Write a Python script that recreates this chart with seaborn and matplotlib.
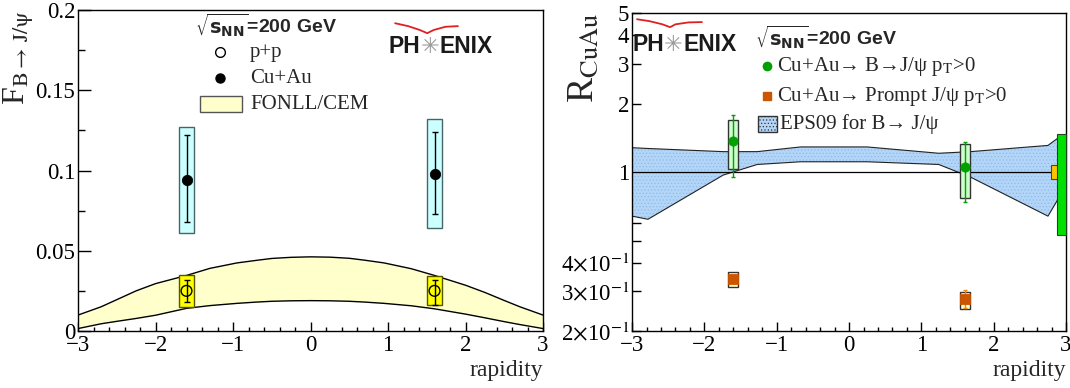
import matplotlib
matplotlib.use("Agg")
import matplotlib.pyplot as plt
import matplotlib.patches as mpatches
from matplotlib.ticker import MultipleLocator, FixedLocator, FixedFormatter, NullFormatter
import pandas as pd
import seaborn as sns

# ---- left panel: fraction of J/psi from B decays ----
rap_pts = [-1.6, 1.6]
pp_frac = [0.025, 0.025]
pp_stat_lo = [0.018, 0.016]
pp_stat_hi = [0.032, 0.032]
pp_sys_lo = [0.015, 0.016]
pp_sys_hi = [0.035, 0.034]
cuau_frac = [0.094, 0.098]
cuau_stat_lo = [0.068, 0.073]
cuau_stat_hi = [0.122, 0.124]
cuau_sys_lo = [0.061, 0.064]
cuau_sys_hi = [0.127, 0.132]

fonll_rap = [-3.0, -2.7, -2.5, -2.25, -2.0, -1.6, -1.3, -0.95, -0.7, -0.5, -0.25, 0.0,
             0.25, 0.5, 0.7, 0.95, 1.3, 1.6, 2.0, 2.25, 2.5, 2.7, 3.0]
fonll_hi = [0.0099, 0.0151, 0.0195, 0.0250, 0.0295, 0.0346, 0.0390, 0.0424, 0.0440, 0.0452,
            0.0459, 0.0462, 0.0460, 0.0453, 0.0441, 0.0424, 0.0388, 0.0346, 0.0285, 0.0240,
            0.0190, 0.0151, 0.0099]
fonll_lo = [0.0015, 0.0045, 0.0060, 0.0078, 0.0098, 0.0141, 0.0158, 0.0172, 0.0180, 0.0185,
            0.0188, 0.0189, 0.0188, 0.0185, 0.0180, 0.0172, 0.0157, 0.0138, 0.0105, 0.0082,
            0.0058, 0.0040, 0.0015]

# ---- right panel: nuclear modification factor ----
rb = [1.37, 1.05]
rb_stat_lo = [0.95, 0.74]
rb_stat_hi = [1.78, 1.35]
rb_sys_lo = [1.03, 0.77]
rb_sys_hi = [1.69, 1.33]
rp = [0.338, 0.276]
rp_stat_lo = [0.328, 0.252]
rp_stat_hi = [0.348, 0.303]
rp_sys_lo = [0.313, 0.250]
rp_sys_hi = [0.362, 0.297]
glob_b = [0.53, 1.47]
glob_prompt = [0.93, 1.07]

eps_rap = [-3.0, -2.78, -1.74, -1.27, -0.67, 0.25, 1.24, 1.68, 2.75, 2.9, 3.0]
eps_hi = [1.28, 1.27, 1.23, 1.23, 1.29, 1.29, 1.21, 1.23, 1.31, 1.42, 1.45]
eps_lo = [0.64, 0.62, 0.97, 1.08, 1.11, 1.11, 1.08, 0.95, 0.64, 0.77, 0.80]

sns.set_theme(style="ticks")
plt.rcParams['font.family'] = ['Liberation Serif', 'DejaVu Serif']
plt.rcParams['mathtext.fontset'] = 'stix'
plt.rcParams['hatch.linewidth'] = 0.5
plt.rcParams['axes.linewidth'] = 1.0

SANS = ['Liberation Sans', 'DejaVu Sans']
TXT = 15


def style_axes(ax):
    for s in ax.spines.values():
        s.set_visible(True)
        s.set_color('black')
    ax.tick_params(which='both', direction='in', top=False, right=False,
                   colors='black', labelsize=16.5, width=1)
    ax.tick_params(axis='x', which='major', length=6.5, pad=3)
    ax.tick_params(axis='x', which='minor', length=3.2)
    ax.set_xlim(-3, 3)
    ax.xaxis.set_major_locator(MultipleLocator(1))
    ax.xaxis.set_minor_locator(MultipleLocator(0.2))
    ax.set_xlabel('rapidity', loc='right', fontsize=17, labelpad=3)


def logo(ax, x_ph, x_star, x_enix, y, arc_x, arc_y):
    ax.text(x_ph, y, 'PH', transform=ax.transAxes, family=SANS, weight='bold',
            fontsize=16.5, color='#1a1a1a', va='center', ha='left')
    ax.text(x_star, y, '\u2733', transform=ax.transAxes, family=['DejaVu Sans'],
            fontsize=16, color='#9a9a9a', va='center', ha='center')
    ax.text(x_enix, y, 'ENIX', transform=ax.transAxes, family=SANS, weight='bold',
            fontsize=16.5, color='#1a1a1a', va='center', ha='left')
    ax.plot(arc_x, arc_y, transform=ax.transAxes, color='#e02020', lw=1.3,
            solid_capstyle='round')


fig = plt.figure(figsize=(10.7, 3.88), dpi=100)
ax1 = fig.add_axes([0.0729, 0.147, 0.4346, 0.827])
ax2 = fig.add_axes([0.5907, 0.147, 0.4056, 0.819])

# ================= left panel =================
fonll = pd.DataFrame({'y': fonll_rap, 'hi': fonll_hi, 'lo': fonll_lo})
ax1.fill_between(fonll['y'], fonll['lo'], fonll['hi'], color='#ffffcc', lw=0, zorder=1)
sns.lineplot(data=fonll, x='y', y='hi', ax=ax1, color='black', lw=1.0, zorder=2)
sns.lineplot(data=fonll, x='y', y='lo', ax=ax1, color='black', lw=1.0, zorder=2)

for x, lo, hi in zip(rap_pts, cuau_sys_lo, cuau_sys_hi):
    ax1.add_patch(mpatches.Rectangle((x - 0.1, lo), 0.2, hi - lo, facecolor='#ccffff',
                                     edgecolor='#446666', lw=1.0, zorder=3))
for x, lo, hi in zip(rap_pts, pp_sys_lo, pp_sys_hi):
    ax1.add_patch(mpatches.Rectangle((x - 0.1, lo), 0.2, hi - lo, facecolor='#ffff00',
                                     edgecolor='#555500', lw=1.0, zorder=3))

ax1.errorbar(rap_pts, cuau_frac,
             yerr=[[v - l for v, l in zip(cuau_frac, cuau_stat_lo)],
                   [h - v for v, h in zip(cuau_frac, cuau_stat_hi)]],
             fmt='none', ecolor='black', elinewidth=1.0, capsize=2, zorder=4)
ax1.errorbar(rap_pts, pp_frac,
             yerr=[[v - l for v, l in zip(pp_frac, pp_stat_lo)],
                   [h - v for v, h in zip(pp_frac, pp_stat_hi)]],
             fmt='none', ecolor='black', elinewidth=1.0, capsize=2, zorder=4)
sns.scatterplot(x=rap_pts, y=cuau_frac, ax=ax1, color='black', s=55,
                edgecolor='black', zorder=5)
sns.scatterplot(x=rap_pts, y=pp_frac, ax=ax1, facecolor='none', s=60,
                edgecolor='black', linewidth=1.0, zorder=5)

style_axes(ax1)
ax1.set_ylim(0, 0.2)
ax1.set_yticks([0, 0.05, 0.1, 0.15, 0.2])
ax1.set_yticklabels(['0', '0.05', '0.1', '0.15', '0.2'])
ax1.yaxis.set_minor_locator(MultipleLocator(0.025))
ax1.tick_params(axis='y', which='major', length=9.5, pad=2)
ax1.tick_params(axis='y', which='minor', length=5)
ax1.set_ylabel(r'F$_{\mathrm{B{\rightarrow}\,J/ψ}}$', loc='top', fontsize=23)
ax1.yaxis.set_label_coords(-0.09, 1.0)

ax1.text(0.252, 0.953, r'$\sqrt{\mathbf{s}_{\mathbf{NN}}}$=200 GeV', transform=ax1.transAxes,
         family=SANS, weight='bold', fontsize=14, math_fontfamily='dejavusans',
         va='center', ha='left')
ax1.plot([0.305], [0.869], 'o', mfc='white', mec='black', ms=7, transform=ax1.transAxes)
ax1.text(0.37, 0.869, 'p+p', transform=ax1.transAxes, fontsize=TXT, va='center')
ax1.plot([0.305], [0.788], 'o', mfc='black', mec='black', ms=6.5, transform=ax1.transAxes)
ax1.text(0.37, 0.788, 'Cu+Au', transform=ax1.transAxes, fontsize=TXT, va='center')
ax1.add_patch(mpatches.Rectangle((0.262, 0.682), 0.091, 0.05, transform=ax1.transAxes,
                                 facecolor='#ffffcc', edgecolor='#555555', lw=1.0))
ax1.text(0.37, 0.707, 'FONLL/CEM', transform=ax1.transAxes, fontsize=TXT, va='center')
logo(ax1, 0.667, 0.757, 0.778, 0.885,
     [0.682, 0.71, 0.735, 0.751, 0.765, 0.79, 0.817],
     [0.959, 0.950, 0.938, 0.928, 0.938, 0.948, 0.950])

# ================= right panel =================
ax2.set_yscale('log')
eps = pd.DataFrame({'y': eps_rap, 'hi': eps_hi, 'lo': eps_lo})
ax2.fill_between(eps['y'], eps['lo'], eps['hi'], facecolor='#b3d5f7', edgecolor='#8fbbe8',
                 hatch='.....', lw=0, zorder=1)
sns.lineplot(data=eps, x='y', y='hi', ax=ax2, color='#222222', lw=0.8, zorder=2)
sns.lineplot(data=eps, x='y', y='lo', ax=ax2, color='#222222', lw=0.8, zorder=2)
ax2.axhline(1.0, color='black', lw=0.9, zorder=2)

for x, lo, hi in zip(rap_pts, rb_sys_lo, rb_sys_hi):
    ax2.add_patch(mpatches.Rectangle((x - 0.07, lo), 0.14, hi - lo, facecolor='#ccffcc',
                                     edgecolor='#333333', lw=1.0, zorder=3))
for x, lo, hi in zip(rap_pts, rp_sys_lo, rp_sys_hi):
    ax2.add_patch(mpatches.Rectangle((x - 0.07, lo), 0.14, hi - lo, facecolor='#ffffcc',
                                     edgecolor='#333333', lw=1.0, zorder=3))
ax2.add_patch(mpatches.Rectangle((2.79, glob_prompt[0]), 0.1, glob_prompt[1] - glob_prompt[0],
                                 facecolor='#ffc400', edgecolor='#444444', lw=0.8, zorder=3))
ax2.add_patch(mpatches.Rectangle((2.88, glob_b[0]), 0.12, glob_b[1] - glob_b[0],
                                 facecolor='#00e000', edgecolor='#224422', lw=0.8, zorder=3,
                                 clip_on=False))

ax2.errorbar(rap_pts, rb,
             yerr=[[v - l for v, l in zip(rb, rb_stat_lo)],
                   [h - v for v, h in zip(rb, rb_stat_hi)]],
             fmt='none', ecolor='#00a000', elinewidth=1.0, capsize=1.5, zorder=4)
ax2.errorbar(rap_pts, rp,
             yerr=[[v - l for v, l in zip(rp, rp_stat_lo)],
                   [h - v for v, h in zip(rp, rp_stat_hi)]],
             fmt='none', ecolor='#ee8800', elinewidth=1.0, capsize=1.5, zorder=4)
sns.scatterplot(x=rap_pts, y=rb, ax=ax2, color='#00a000', s=45, edgecolor='#00a000', zorder=5)
sns.scatterplot(x=rap_pts, y=rp, ax=ax2, color='#cc5500', marker='s', s=55,
                edgecolor='#cc5500', zorder=5)

style_axes(ax2)
ax2.set_ylim(0.2, 5)
ax2.yaxis.set_major_locator(FixedLocator([0.2, 0.3, 0.4, 1, 2, 3, 4, 5]))
ax2.yaxis.set_major_formatter(FixedFormatter([r'2$\times$10$^{-1}$', r'3$\times$10$^{-1}$',
                                              r'4$\times$10$^{-1}$', '1', '2', '3', '4', '5']))
ax2.yaxis.set_minor_locator(FixedLocator([0.5, 0.6, 0.7, 0.8, 0.9]))
ax2.yaxis.set_minor_formatter(NullFormatter())
ax2.tick_params(axis='y', which='both', length=6.5, pad=2)
ax2.set_ylabel(r'R$_{\mathrm{CuAu}}$', loc='top', fontsize=27)
ax2.yaxis.set_label_coords(-0.072, 1.0)

ax2.text(0.283, 0.925, r'$\sqrt{\mathbf{s}_{\mathbf{NN}}}$=200 GeV', transform=ax2.transAxes,
         family=SANS, weight='bold', fontsize=14, math_fontfamily='dejavusans',
         va='center', ha='left')
ax2.plot([0.311], [0.833], 'o', color='#00a000', ms=6, transform=ax2.transAxes)
ax2.text(0.334, 0.833, 'Cu+Au\u2192 B\u2192J/\u03c8 p$_{\\mathrm{T}}$>0',
         transform=ax2.transAxes, fontsize=TXT, va='center')
ax2.plot([0.311], [0.739], 's', color='#cc5500', ms=6, transform=ax2.transAxes)
ax2.text(0.334, 0.739, 'Cu+Au\u2192 Prompt J/\u03c8 p$_{\\mathrm{T}}$>0',
         transform=ax2.transAxes, fontsize=TXT, va='center')
ax2.add_patch(mpatches.Rectangle((0.29, 0.626), 0.044, 0.05, transform=ax2.transAxes,
                                 facecolor='#b3d5f7', edgecolor='#333333', hatch='.....',
                                 lw=1.0))
ax2.text(0.341, 0.651, 'EPS09 for B\u2192 J/\u03c8', transform=ax2.transAxes,
         fontsize=TXT, va='center')
logo(ax2, 0.002, 0.094, 0.118, 0.900,
     [0.0115, 0.04, 0.07, 0.0876, 0.10, 0.13, 0.161],
     [0.981, 0.975, 0.965, 0.956, 0.965, 0.971, 0.972])

fig.savefig('out.png', dpi=100)
